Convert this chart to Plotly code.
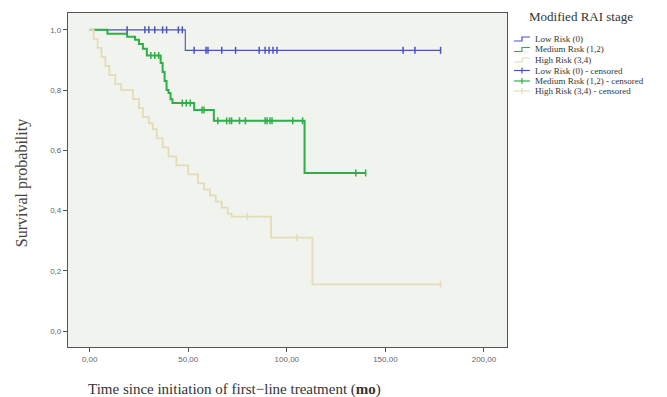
import numpy as np
import plotly.graph_objects as go

# ---- data ----
low_t = [0, 48.5, 178]
low_s = [1.0, 0.932, 0.932]
low_cens = [19, 28, 30, 33, 37, 39, 45, 47, 53, 59, 60, 67, 74, 86, 89, 91, 93, 95, 159, 165, 178]

med_t = [0, 9, 19, 23, 25, 27, 29, 36, 37, 38, 39, 40, 41, 42, 53, 63, 109, 140]
med_s = [1.0, 0.987, 0.977, 0.967, 0.953, 0.937, 0.915, 0.89, 0.86, 0.83, 0.80, 0.79, 0.77, 0.757,
         0.734, 0.698, 0.525, 0.525]
med_cens = [31, 33, 35, 47, 49, 51, 57, 58, 65, 69.5, 71, 72, 76, 79, 89, 90, 91.5, 92.5, 103, 108, 135, 140]

high_t = [0, 2, 4, 6, 8, 10, 13, 16, 22, 25, 27, 30, 32, 34, 37, 40, 44, 50, 55, 58, 61, 64, 67,
          70, 72, 92, 113, 178]
high_s = [1.0, 0.97, 0.94, 0.91, 0.88, 0.85, 0.82, 0.80, 0.77, 0.74, 0.71, 0.69, 0.67, 0.64, 0.61,
          0.58, 0.55, 0.52, 0.49, 0.47, 0.45, 0.43, 0.41, 0.39, 0.38, 0.31, 0.155, 0.155]
high_cens = [80, 105, 178]

x_ticks = [0, 50, 100, 150, 200]
x_labels = ["0,00", "50,00", "100,00", "150,00", "200,00"]
y_ticks = [0.0, 0.2, 0.4, 0.6, 0.8, 1.0]
y_labels = ["0,0", "0,2", "0,4", "0,6", "0,8", "1,0"]

legend_title = "Modified RAI stage"
legend_labels = ["Low Risk (0)", "Medium Rısk (1,2)", "High Risk (3,4)",
                 "Low Risk (0) - censored", "Medium Rısk (1,2) - censored",
                 "High Risk (3,4) - censored"]


def surv_at(times, t_arr, s_arr):
    idx = np.searchsorted(np.array(t_arr), np.array(times), side="right") - 1
    return [s_arr[i] for i in idx]


BLUE = "#4854b4"
GREEN = "#2eae48"
YELLOW = "#e4dcb6"
colors = [BLUE, GREEN, YELLOW]

fig = go.Figure()
series = [(low_t, low_s, 1.1), (med_t, med_s, 2.0), (high_t, high_s, 1.8)]
for i, (t, s, w) in enumerate(series):
    fig.add_trace(go.Scatter(x=t, y=s, mode="lines", line=dict(color=colors[i], width=w, shape="hv"),
                             name=legend_labels[i], showlegend=False))
cens = [(low_cens, low_t, low_s), (med_cens, med_t, med_s), (high_cens, high_t, high_s)]
for i, (ct, t, s) in enumerate(cens):
    fig.add_trace(go.Scatter(x=ct, y=surv_at(ct, t, s), mode="markers", name=legend_labels[i + 3],
                             showlegend=False,
                             marker=dict(symbol="line-ns-open", size=5, color=colors[i],
                                         line=dict(color=colors[i], width=1.5))))

axis_common = dict(showline=True, linecolor="#555555", linewidth=1.2, mirror=True,
                   ticks="outside", ticklen=4, tickcolor="#555555", showgrid=False, zeroline=False,
                   tickfont=dict(family="Liberation Sans", size=8, color="#666666"))
fig.update_xaxes(range=[-11, 211.7], tickvals=x_ticks, ticktext=x_labels, automargin=False,
                 **axis_common)
fig.update_yaxes(range=[-0.053, 1.056], tickvals=y_ticks, ticktext=y_labels, automargin=False,
                 **axis_common)

# axis titles
fig.add_annotation(text="Time since initiation of first\u2212line treatment (<b>mo</b>)",
                   xref="paper", yref="paper", x=0.04, y=-0.095, xanchor="left", yanchor="top",
                   showarrow=False, font=dict(family="Liberation Serif", size=15, color="#333333"))
fig.add_annotation(text="Survival probability", textangle=-90,
                   xref="paper", yref="paper", x=-0.105, y=0.49, xanchor="center", yanchor="middle",
                   showarrow=False, font=dict(family="Liberation Serif", size=16, color="#444444"))

# custom compact legend (paper coords; plot box spans 68..507 px x, 13..347 px y)
def px_x(p):
    return (p - 68) / 439.0


def px_y(p):
    return (347 - p) / 334.0


fig.add_annotation(text=legend_title, xref="paper", yref="paper", x=px_x(527), y=px_y(17),
                   xanchor="left", yanchor="middle", showarrow=False,
                   font=dict(family="Liberation Serif", size=13, color="#333333"))
row_y = [39, 49.5, 60, 70.5, 81, 91]
for k, lab in enumerate(legend_labels):
    yy = row_y[k]
    c = colors[k % 3]
    fig.add_annotation(text=lab, xref="paper", yref="paper", x=px_x(533), y=px_y(yy),
                       xanchor="left", yanchor="middle", showarrow=False,
                       font=dict(family="Liberation Serif", size=9, color="#333333"))
    if k < 3:
        fig.add_shape(type="path", xref="paper", yref="paper",
                      path=f"M {px_x(514)} {px_y(yy + 2)} L {px_x(522)} {px_y(yy + 2)} "
                           f"L {px_x(522)} {px_y(yy - 2)} L {px_x(530)} {px_y(yy - 2)}",
                      line=dict(color=c, width=1.2))
    else:
        fig.add_shape(type="line", xref="paper", yref="paper", x0=px_x(514), x1=px_x(530),
                      y0=px_y(yy), y1=px_y(yy), line=dict(color=c, width=1.2))
        fig.add_shape(type="line", xref="paper", yref="paper", x0=px_x(522), x1=px_x(522),
                      y0=px_y(yy - 3), y1=px_y(yy + 3), line=dict(color=c, width=1.2))

fig.update_layout(
    width=667, height=397,
    margin=dict(l=68, r=160, t=13, b=50, autoexpand=False),
    paper_bgcolor="white", plot_bgcolor="#f1f3ef",
    showlegend=False,
)

fig.write_html("out.html", config={"displayModeBar": False},
               post_script="document.body.style.margin='0px';document.body.style.overflow='hidden';")
